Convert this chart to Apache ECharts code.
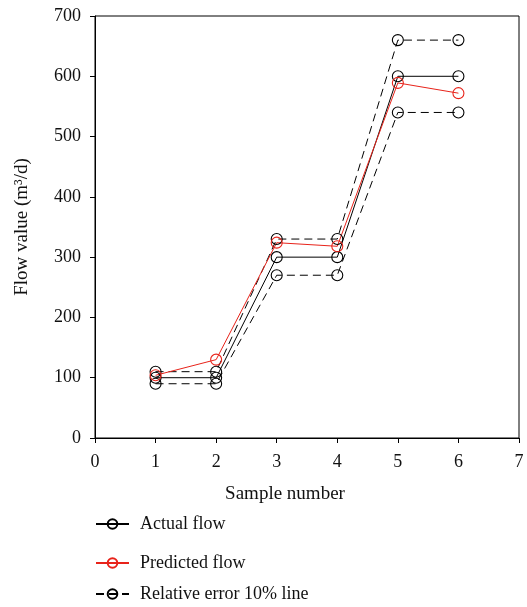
<!DOCTYPE html>
<html>
<head>
<meta charset="utf-8">
<script src="https://cdn.jsdelivr.net/npm/echarts@6/dist/echarts.min.js"></script>
<style>html,body{margin:0;padding:0;background:#fff}#chart{width:527px;height:607px}</style>
</head>
<body>
<div id="chart"></div>
<script>
// Sample numbers and flow values (m³/d)
const samples = [1, 2, 3, 4, 5, 6];
const actualFlow = [100, 100, 300, 300, 600, 600];
const predictedFlow = [104, 130, 324, 318, 589, 572];
const upperBound = [110, 110, 330, 330, 660, 660];
const lowerBound = [90, 90, 270, 270, 540, 540];
const xTicks = [0, 1, 2, 3, 4, 5, 6, 7];
const yTicks = [0, 100, 200, 300, 400, 500, 600, 700];

const FONT = '"Liberation Serif", "DejaVu Serif", serif';
const pairs = (xs, ys) => xs.map((x, i) => [x, ys[i]]);

function lineSeries(name, values, color, dashed) {
  return {
    name: name,
    type: 'line',
    data: pairs(samples, values),
    symbol: 'circle',
    symbolSize: 11,
    showSymbol: true,
    lineStyle: { color: color, width: 1, type: dashed ? [8, 5] : 'solid' },
    itemStyle: { color: 'rgba(0,0,0,0)', borderColor: color, borderWidth: 1.1 },
    emphasis: { disabled: true },
    animation: false
  };
}

const chart = echarts.init(document.getElementById('chart'));
const legendBase = {
  left: 95,
  orient: 'vertical',
  padding: 0,
  itemWidth: 33,
  itemHeight: 12,
  itemGap: 0,
  textStyle: { fontFamily: FONT, fontSize: 18, color: '#111', padding: [0, 0, 0, 6] }
};
chart.setOption({
  backgroundColor: '#fff',
  grid: {
    left: 95, right: 8, top: 16, bottom: 169,
    show: true, borderColor: '#000', borderWidth: 1, backgroundColor: 'transparent'
  },
  legend: [
    Object.assign({}, legendBase, { top: 515, data: ['Actual flow'] }),
    Object.assign({}, legendBase, { top: 554, data: ['Predicted flow'] }),
    Object.assign({}, legendBase, { top: 585, data: ['Relative error 10% line'] })
  ],
  xAxis: {
    type: 'value',
    min: xTicks[0], max: xTicks[xTicks.length - 1], interval: 1,
    name: 'Sample number',
    nameLocation: 'middle',
    nameGap: 47,
    nameTextStyle: { fontFamily: FONT, fontSize: 19, color: '#111', padding: [0, 44, 0, 0] },
    axisLine: { lineStyle: { color: '#000', width: 1 } },
    axisTick: { show: true, length: 5, inside: false, lineStyle: { color: '#000' } },
    axisLabel: { fontFamily: FONT, fontSize: 18, color: '#111', margin: 15 },
    splitLine: { show: false }
  },
  yAxis: {
    type: 'value',
    min: yTicks[0], max: yTicks[yTicks.length - 1], interval: 100,
    name: 'Flow value (m³/d)',
    nameLocation: 'middle',
    nameGap: 63,
    nameRotate: 90,
    nameTextStyle: { fontFamily: FONT, fontSize: 19, color: '#111' },
    axisLine: { show: true, lineStyle: { color: '#000', width: 1 } },
    axisTick: { show: true, length: 5, inside: false, lineStyle: { color: '#000' } },
    axisLabel: { fontFamily: FONT, fontSize: 18, color: '#111', margin: 14 },
    splitLine: { show: false }
  },
  series: [
    lineSeries('Relative error 10% line', upperBound, '#000', true),
    lineSeries('Relative error 10% line', lowerBound, '#000', true),
    lineSeries('Actual flow', actualFlow, '#000', false),
    lineSeries('Predicted flow', predictedFlow, '#e8231a', false)
  ]
});
</script>
</body>
</html>
